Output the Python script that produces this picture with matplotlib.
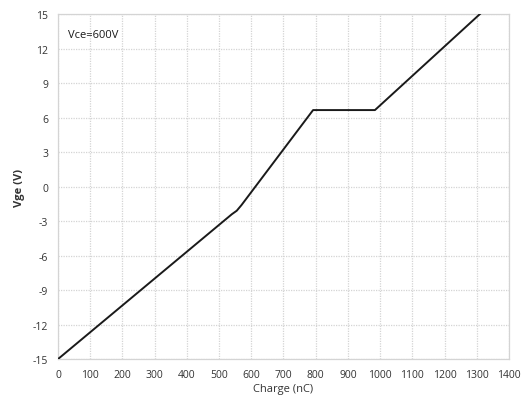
import matplotlib
matplotlib.use("Agg")
import matplotlib.pyplot as plt

# ── Data ─────────────────────────────────────────────────────────────────────
charge = [0, 540, 555, 570, 792, 984, 1310]
vge    = [-15, -2.4, -2.1, -1.6, 6.65, 6.65, 15]

X_TICKS = list(range(0, 1401, 100))
Y_TICKS = list(range(-15, 16, 3))

GRID  = "#D4D4D4"
TEXT  = "#333333"

plt.rcParams.update({
    "font.family": ["Open Sans", "DejaVu Sans"],
    "axes.unicode_minus": False,
})

fig = plt.figure(figsize=(5.22, 4.06), dpi=100, facecolor="white")
ax = fig.add_axes([0.111, 0.113, 0.864, 0.850])

ax.plot(charge, vge, color="#1A1A1A", linewidth=1.4, zorder=3)

ax.set_xlim(0, 1400)
ax.set_ylim(-15, 15)
ax.set_xticks(X_TICKS)
ax.set_yticks(Y_TICKS)
ax.grid(True, color=GRID, linewidth=0.9, linestyle=(0, (1, 1)))
for s in ax.spines.values():
    s.set_color(GRID)
    s.set_linewidth(0.9)
ax.tick_params(length=0, labelsize=7.5, labelcolor=TEXT, pad=7)

ax.set_xlabel("Charge (nC)", fontsize=8, color=TEXT, labelpad=2)
ax.set_ylabel("Vge (V)", fontsize=8, color=TEXT, fontweight="bold", labelpad=6)

ax.text(30, 13.2, "Vce=600V", fontsize=8, color="#1A1A1A", va="center")

fig.savefig("out.png", dpi=100, facecolor="white")
